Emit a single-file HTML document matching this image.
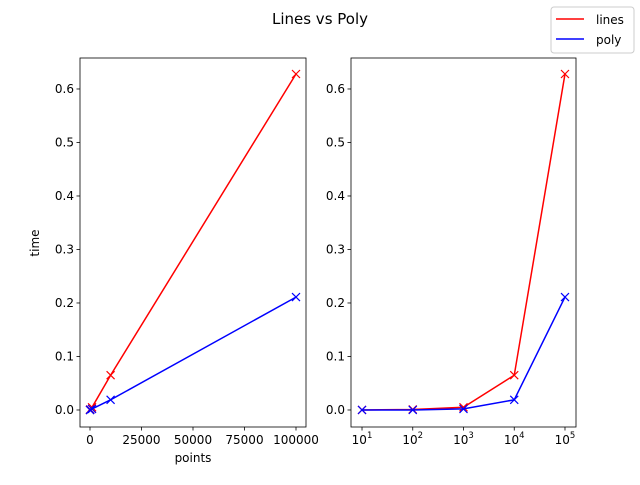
<!DOCTYPE html>
<html><head><meta charset="utf-8"><style>body{margin:0;background:#fff}svg text{font-family:"DejaVu Sans","Liberation Sans",sans-serif;}</style></head>
<body>
<svg id="c" width="640" height="480" xmlns="http://www.w3.org/2000/svg">
<text x="320" y="24" font-size="15" text-anchor="middle">Lines vs Poly</text>
</svg>
<script>
const points=[10,100,1000,10000,100000];
const linesTime=[0.0,0.001,0.005,0.065,0.628];
const polyTime=[0.0,0.0,0.002,0.019,0.211];
const yTicks=[0,0.1,0.2,0.3,0.4,0.5,0.6];
const xTicksLin=[0,25000,50000,75000,100000];
const xTicksLog=[1,2,3,4,5];
const svg=document.getElementById('c');
const NS='http://www.w3.org/2000/svg';
function mk(t,a,p){const e=document.createElementNS(NS,t);for(const k in a)e.setAttribute(k,a[k]);(p||svg).appendChild(e);return e;}
const yMin=-0.0318,yMax=0.6579,yTop=58,yBot=427;
const Y=v=>yBot-(v-yMin)/(yMax-yMin)*(yBot-yTop);
function axes(x0,x1,X,xt,isLog,nm){
 const g=mk('g',{});
 
 
 mk('rect',{x:x0,y:yTop,width:x1-x0,height:yBot-yTop,fill:'none',stroke:'#000','stroke-width':0.8},g);
 yTicks.forEach(v=>{const y=Y(v);mk('line',{x1:x0-3.5,x2:x0,y1:y,y2:y,stroke:'#000','stroke-width':0.8},g);
  const t=mk('text',{x:x0-6,y:y+4,'font-size':12,'text-anchor':'end'},g);t.textContent=v.toFixed(1);
  });
 xt.forEach(v=>{const x=X(isLog?Math.pow(10,v):v);mk('line',{x1:x,x2:x,y1:yBot,y2:yBot+3.5,stroke:'#000','stroke-width':0.8},g);
  const t=mk('text',{x:x,y:yBot+17,'font-size':12,'text-anchor':'middle'},g);
  
  if(isLog){t.textContent='10';const s=mk('tspan',{dy:-6,'font-size':8.5},t);s.textContent=v;}else t.textContent=v;});
 [[linesTime,'red','lines'],[polyTime,'blue','poly']].forEach(([d,c,n])=>{
  const pl=mk('polyline',{points:points.map((p,i)=>X(p)+','+Y(d[i])).join(' '),fill:'none',stroke:c,'stroke-width':1.5},g);
  
  points.forEach((p,i)=>{const x=X(p),y=Y(d[i]);mk('path',{d:`M${x-4},${y-4}L${x+4},${y+4}M${x-4},${y+4}L${x+4},${y-4}`,stroke:c,'stroke-width':1.2},g);});
 });
}
const XL=v=>80+(v+4854)/(104854+4854)*(306-80);
axes(80,306,XL,xTicksLin,false,'left-axes');
const lmin=0.783,lmax=5.217;
const XG=v=>351+(Math.log10(v)-lmin)/(lmax-lmin)*(576-351);
axes(351,576,XG,xTicksLog,true,'right-axes');
let t=mk('text',{x:193,y:462,'font-size':12,'text-anchor':'middle'});t.textContent='points';

t=mk('text',{x:0,y:0,'font-size':12,'text-anchor':'middle',transform:'translate(39,243) rotate(-90)'});t.textContent='time';

const lg=mk('g',{});

mk('rect',{x:551,y:7,width:83,height:46,rx:3,fill:'#fff',stroke:'#ccc'},lg);
[['red','lines',24],['blue','poly',44]].forEach(([c,n,y])=>{mk('line',{x1:556,x2:584,y1:y-5,y2:y-5,stroke:c,'stroke-width':1.5},lg);
 const e=mk('text',{x:596,y:y,'font-size':12},lg);e.textContent=n;
 });
</script>
</body></html>
